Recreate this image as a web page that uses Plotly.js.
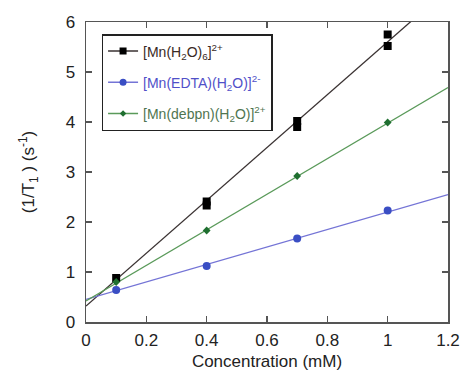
<!DOCTYPE html>
<html>
<head>
<meta charset="utf-8">
<script src="https://cdn.plot.ly/plotly-3.0.1.min.js"></script>
<style>html,body{margin:0;padding:0;background:#fff;}#chart{width:463px;height:375px;}</style>
</head>
<body>
<div id="chart"></div>
<script>
// measured points
var xAqua = [0.1, 0.4, 0.4, 0.7, 0.7, 1.0, 1.0];
var yAqua = [0.88, 2.33, 2.41, 3.90, 4.02, 5.52, 5.75];
var xConc = [0.1, 0.4, 0.7, 1.0];
var yEDTA = [0.64, 1.12, 1.67, 2.23];
var yDebpn = [0.80, 1.83, 2.92, 3.99];
// linear fit lines (end points)
var fitX = [0, 1.2];
var fitAqua = [0.32, 6.66];
var fitEDTA = [0.45, 2.55];
var fitDebpn = [0.42, 4.69];

var names = [
  '<span style="color:#3a2a24">[Mn(H<sub>2</sub>O)<sub>6</sub>]<sup>2+</sup></span>',
  '<span style="color:#5050c8">[Mn(EDTA)(H<sub>2</sub>O)]<sup>2-</sup></span>',
  '<span style="color:#4f7550">[Mn(debpn)(H<sub>2</sub>O)]<sup>2+</sup></span>'
];
var lineColors = ['#3a3232', '#7474d6', '#5a9a5a'];
var markerColors = ['#000', '#3a4ec4', '#1f6f30'];
var markerSymbols = ['square', 'circle', 'diamond'];
var markerSizes = [8, 8, 6];
var fits = [fitAqua, fitEDTA, fitDebpn];
var ptsX = [xAqua, xConc, xConc];
var ptsY = [yAqua, yEDTA, yDebpn];

var data = [];
for (var i = 0; i < 3; i++) {
  data.push({x: fitX, y: fits[i], mode: 'lines', line: {color: lineColors[i], width: 1.3},
    showlegend: false, hoverinfo: 'skip'});
}
for (var i = 0; i < 3; i++) {
  data.push({x: ptsX[i], y: ptsY[i], mode: 'markers', showlegend: false,
    marker: {symbol: markerSymbols[i], size: markerSizes[i], color: markerColors[i]}});
}
// legend entries (line + marker sample)
for (var i = 0; i < 3; i++) {
  data.push({x: [null], y: [null], mode: 'lines+markers', name: names[i], legendgroup: 'g' + i,
    line: {color: lineColors[i], width: 1.5},
    marker: {symbol: markerSymbols[i], size: markerSizes[i] - 1, color: markerColors[i]}});
}

var fam = 'Liberation Sans, Arial, sans-serif';
var axisFont = {family: fam, size: 17, color: '#222'};
var layout = {
  width: 463, height: 375,
  margin: {l: 86, r: 15, t: 22, b: 53},
  paper_bgcolor: '#fff', plot_bgcolor: '#fff',
  font: {family: fam, color: '#222'},
  xaxis: {
    range: [0, 1.2], dtick: 0.2, tick0: 0,
    showgrid: false, zeroline: false,
    showline: true, linecolor: '#555', linewidth: 1.5, mirror: 'ticks',
    ticks: 'inside', ticklen: 6, tickwidth: 1.3, tickcolor: '#555',
    tickfont: axisFont, ticklabelstandoff: 2,
    title: {text: 'Concentration (mM)', font: {family: fam, size: 17, color: '#222'}, standoff: 6}
  },
  yaxis: {
    range: [0, 6], dtick: 1,
    showgrid: false, zeroline: false,
    showline: true, linecolor: '#555', linewidth: 1.5, mirror: 'ticks',
    ticks: 'inside', ticklen: 6, tickwidth: 1.3, tickcolor: '#555',
    tickfont: axisFont, ticklabelstandoff: 6,
    title: {text: '(1/T<sub>1</sub> ) (s<sup>-1</sup>)', font: {family: fam, size: 17, color: '#222'}, standoff: 26}
  },
  legend: {
    x: 0.043, y: 0.96, xanchor: 'left', yanchor: 'top',
    bgcolor: '#fff', bordercolor: '#222', borderwidth: 1.5,
    font: {family: fam, size: 14},
    itemwidth: 30, tracegroupgap: 10
  },
  showlegend: true
};

Plotly.newPlot('chart', data, layout, {displayModeBar: false, staticPlot: true});
</script>
</body>
</html>
